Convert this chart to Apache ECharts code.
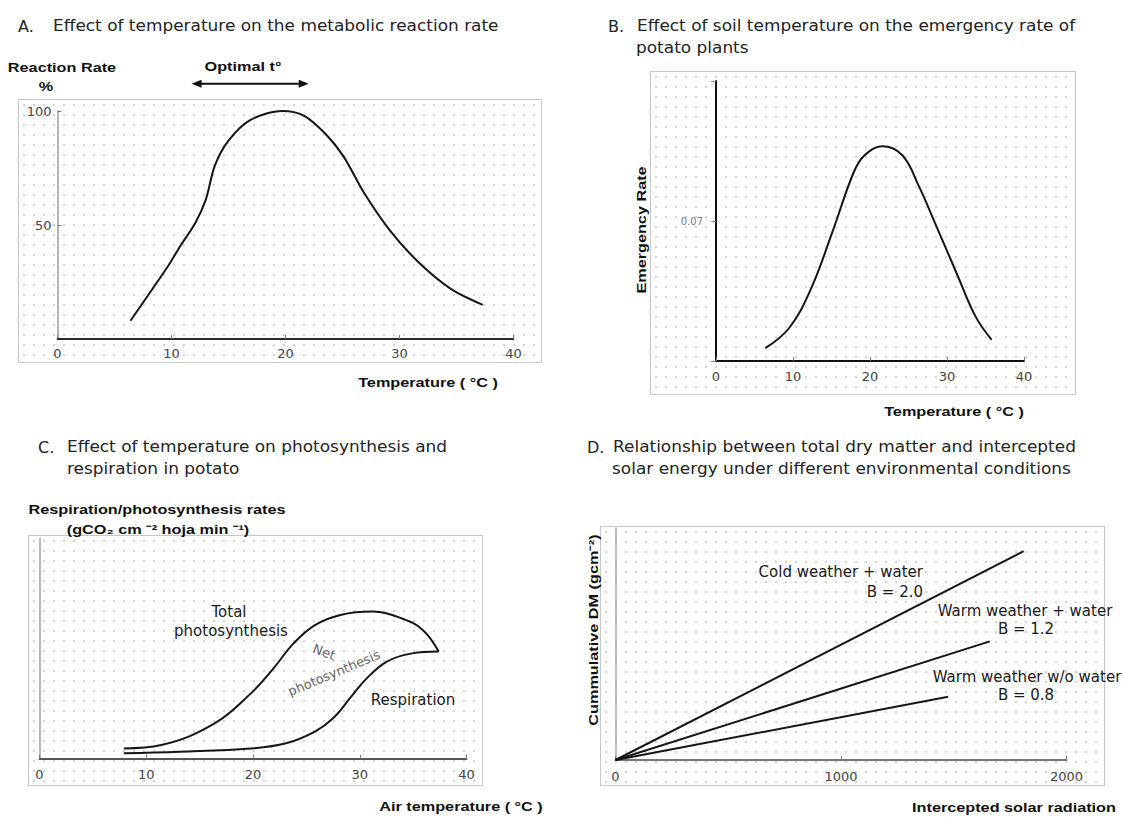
<!DOCTYPE html>
<html>
<head>
<meta charset="utf-8">
<title>Potato temperature charts</title>
<script src="https://cdn.jsdelivr.net/npm/echarts@6/dist/echarts.min.js"></script>
<style>
  html, body { margin: 0; padding: 0; background: #fff; }
  #wrap { position: relative; width: 1123px; height: 817px; }
  .box {
    position: absolute; box-sizing: border-box; border: 1px solid #c6c6c6;
    background-image: radial-gradient(circle, #d2d2d2 0.8px, rgba(255,255,255,0) 1.3px);
    background-size: 10px 10px;
  }
  #main { position: absolute; left: 0; top: 0; width: 1123px; height: 817px; }
</style>
</head>
<body>
<div id="wrap">
  <div class="box" style="left:18px;top:99px;width:524px;height:264px"></div>
  <div class="box" style="left:650px;top:71px;width:426px;height:324px"></div>
  <div class="box" style="left:28px;top:535px;width:455px;height:251px"></div>
  <div class="box" style="left:600px;top:526px;width:505px;height:260px"></div>
  <div id="main"></div>
</div>
<script>
// ---- data ----
// A. metabolic reaction rate (%) vs temperature
var rateTemp  = [6.4, 9.7, 10.8, 12.1, 13.0, 13.8, 15.0, 16.9, 19.7, 21.6, 23.5, 25.1, 26.9, 29.1, 31.6, 34.5, 37.3];
var rateValue = [8, 32, 41, 51, 61, 76, 87, 96, 100, 98, 90, 80, 64, 48, 34, 22, 15];
var optimalRange = [12.2, 21.6];
var optimalLevel = 112;

// B. emergency rate vs soil temperature
var soilTemp  = [6.4, 9.5, 12.3, 15.1, 17.9, 19.3, 21.6, 24.2, 26.3, 28.6, 31.4, 33.7, 35.8];
var emergence = [0.0064, 0.0165, 0.0358, 0.0643, 0.0945, 0.1029, 0.1074, 0.1029, 0.0878, 0.0676, 0.0425, 0.0223, 0.0106];

// C. photosynthesis / respiration vs air temperature (relative units)
var totalTemp   = [7.9, 11.4, 16.4, 19.8, 21.8, 23.8, 25.8, 28.2, 31.2, 33.9, 35.9, 37.4];
var totalPhoto  = [4.8, 6.3, 16.1, 29.7, 40.3, 52.3, 60.6, 65.2, 66.7, 63.7, 58.4, 48.6];
var respTemp    = [7.9, 13.1, 19.8, 23.1, 25.8, 27.5, 29.2, 30.5, 32.5, 34.9, 37.4];
var respiration = [2.6, 3.3, 4.8, 7.1, 12.4, 18.4, 28.2, 35.7, 44.0, 47.8, 48.6];

// D. cumulative dry matter vs intercepted radiation (start and end of each line)
var radiationStart = [0, 0, 0];
var radiationEnd   = [1810, 1660, 1475];
var dryMatterStart = [0, 0, 0];
var dryMatterEnd   = [3600, 2045, 1090];
var conditionNames = ['Cold weather + water', 'Warm weather + water', 'Warm weather w/o water'];
var efficiencyText = ['B = 2.0', 'B = 1.2', 'B = 0.8'];

function pairs(xs, ys) {
  var out = [];
  for (var i = 0; i < xs.length; i++) out.push([xs[i], ys[i]]);
  return out;
}

var chart = echarts.init(document.getElementById('main'), null, { renderer: 'svg' });

var SANS = "'DejaVu Sans', sans-serif";
var BOLD = "bold 13px 'Liberation Sans', Arial, sans-serif";

function txt(text, x, y, opt) {
  opt = opt || {};
  return {
    type: 'text', x: x, y: y, rotation: opt.rotation || 0, silent: true,
    scaleX: opt.scaleX || 1,
    style: {
      text: text,
      font: opt.font || ('16px ' + SANS),
      fill: opt.color || '#1a1a1a',
      align: opt.align || 'left', textAlign: opt.align || 'left',
      verticalAlign: 'middle', textVerticalAlign: 'middle'
    }
  };
}

// bold, stretched axis titles like the original's blocky type
function bold(text, x, y, rotation) {
  return txt(text, x, y, { font: BOLD, align: 'center', scaleX: 1.25, rotation: rotation || 0, color: '#111' });
}

function head(text, x, y) {
  return txt(text, x, y, { scaleX: 1.06, color: '#222' });
}

function xAxisOf(grid, max, interval, line, width, margin) {
  return {
    type: 'value', gridIndex: grid, min: 0, max: max, interval: interval,
    axisLine: { show: true, onZero: false, lineStyle: { color: line, width: width } },
    axisTick: { show: true, inside: true, length: 4, lineStyle: { color: '#777' } },
    axisLabel: {
      color: '#444', fontSize: 13, fontFamily: 'DejaVu Sans', margin: margin,
      formatter: function (v) { return String(v); }
    },
    splitLine: { show: false }
  };
}

function yAxisOf(grid, max, interval, line, width, extra) {
  var ax = {
    type: 'value', gridIndex: grid, min: 0, max: max, interval: interval,
    axisLine: { show: true, onZero: false, lineStyle: { color: line, width: width } },
    axisTick: { show: false },
    axisLabel: { show: false },
    splitLine: { show: false }
  };
  return Object.assign(ax, extra || {});
}

var curveStyle = { color: '#151515', width: 2 };
var labelFont = '15px ' + SANS;

var graphics = [
  // panel titles
  txt('A.', 18, 26, { color: '#222' }), head('Effect of temperature on the metabolic reaction rate', 53, 26),
  txt('B.', 608, 26, { color: '#222' }), head('Effect of soil temperature on the emergency rate of', 637, 26),
  head('potato plants', 636, 48),
  txt('C.', 38, 447, { color: '#222' }), head('Effect of temperature on photosynthesis and', 67, 447),
  head('respiration in potato', 67, 469),
  txt('D.', 587, 447, { color: '#222' }), head('Relationship between total dry matter and intercepted', 613, 447),
  head('solar energy under different environmental conditions', 612, 469),

  // A axis titles
  bold('Reaction Rate', 62, 68),
  bold('%', 46, 87),
  bold('Optimal t\u00b0', 243, 67),
  bold('Temperature ( \u00b0C )', 428, 383),

  // B axis titles
  bold('Emergency Rate', 642, 230, Math.PI / 2),
  bold('Temperature ( \u00b0C )', 954, 412),

  // C axis titles and curve labels
  bold('Respiration/photosynthesis rates', 157, 510),
  bold('(gCO\u2082 cm \u207b\u00b2 hoja min \u207b\u00b9)', 158, 530),
  bold('Air temperature ( \u00b0C )', 461, 807),
  txt('Total', 229, 612, { font: labelFont, align: 'center' }),
  txt('photosynthesis', 231, 631, { font: labelFont, align: 'center' }),
  txt('Net', 324, 652, { font: '13px ' + SANS, align: 'center', color: '#666', rotation: -0.35 }),
  txt('photosynthesis', 334, 673, { font: '13px ' + SANS, align: 'center', color: '#666', rotation: 0.4 }),
  txt('Respiration', 413, 700, { font: labelFont, align: 'center' }),

  // D axis titles and line labels
  bold('Cummulative DM (gcm\u207b\u00b2)', 594, 630, Math.PI / 2),
  bold('Intercepted solar radiation', 1014, 808),
  txt(conditionNames[0], 923, 572, { font: labelFont, align: 'right' }),
  txt(efficiencyText[0], 923, 592, { font: labelFont, align: 'right' }),
  txt(conditionNames[1], 1025, 611, { font: labelFont, align: 'center' }),
  txt(efficiencyText[1], 1026, 629, { font: labelFont, align: 'center' }),
  txt(conditionNames[2], 1027, 677, { font: labelFont, align: 'center' }),
  txt(efficiencyText[2], 1026, 695, { font: labelFont, align: 'center' })
];

var dSeries = [];
for (var i = 0; i < conditionNames.length; i++) {
  dSeries.push({
    name: conditionNames[i], type: 'line', xAxisIndex: 3, yAxisIndex: 3,
    data: [[radiationStart[i], dryMatterStart[i]], [radiationEnd[i], dryMatterEnd[i]]],
    symbol: 'none', lineStyle: curveStyle
  });
}

var option = {
  animation: false,
  grid: [
    { left: 57.5, top: 111, width: 456, height: 228 },
    { left: 716, top: 81, width: 308, height: 280 },
    { left: 39.5, top: 538, width: 427, height: 221 },
    { left: 615.5, top: 528, width: 451, height: 232 }
  ],
  xAxis: [
    xAxisOf(0, 40, 10, '#2a2a2a', 2, 8),
    xAxisOf(1, 40, 10, '#111', 2, 9),
    xAxisOf(2, 40, 10, '#555', 2, 9),
    xAxisOf(3, 2000, 1000, '#777', 2, 10)
  ],
  yAxis: [
    yAxisOf(0, 100, 50, '#9a9a9a', 1.5, {
      axisTick: { show: true, inside: true, length: 4, lineStyle: { color: '#777' } },
      axisLabel: { show: true, showMinLabel: false, color: '#444', fontSize: 13, fontFamily: 'DejaVu Sans', margin: 6 }
    }),
    yAxisOf(1, 0.14, 0.07, '#111', 2, {
      axisTick: { show: true, length: 5, lineStyle: { color: '#888' } },
      axisLabel: {
        show: true, color: '#777', fontSize: 10, fontFamily: 'DejaVu Sans', margin: 13,
        formatter: function (v) { return Math.abs(v - 0.07) < 1e-9 ? '0.07' : ''; }
      }
    }),
    yAxisOf(2, 100, 50, '#a0a0a0', 1.5),
    yAxisOf(3, 4000, 1000, '#aaa', 1.5)
  ],
  graphic: graphics,
  series: [
    {
      name: 'Reaction rate', type: 'line', xAxisIndex: 0, yAxisIndex: 0,
      data: pairs(rateTemp, rateValue), smooth: 0.3, symbol: 'none', lineStyle: curveStyle
    },
    {
      name: 'Optimal t', type: 'line', xAxisIndex: 0, yAxisIndex: 0, clip: false,
      data: [
        { value: [optimalRange[0], optimalLevel], symbolRotate: 90 },
        { value: [optimalRange[1], optimalLevel], symbolRotate: -90 }
      ],
      symbol: 'triangle', symbolSize: [8, 10], showSymbol: true,
      itemStyle: { color: '#111' }, lineStyle: { color: '#111', width: 2 }
    },
    {
      name: 'Emergency rate', type: 'line', xAxisIndex: 1, yAxisIndex: 1,
      data: pairs(soilTemp, emergence), smooth: 0.4, symbol: 'none', lineStyle: curveStyle
    },
    {
      name: 'Total photosynthesis', type: 'line', xAxisIndex: 2, yAxisIndex: 2,
      data: pairs(totalTemp, totalPhoto), smooth: 0.4, symbol: 'none', lineStyle: curveStyle
    },
    {
      name: 'Respiration', type: 'line', xAxisIndex: 2, yAxisIndex: 2,
      data: pairs(respTemp, respiration), smooth: 0.4, symbol: 'none', lineStyle: curveStyle
    }
  ].concat(dSeries)
};

chart.setOption(option);
</script>
</body>
</html>
